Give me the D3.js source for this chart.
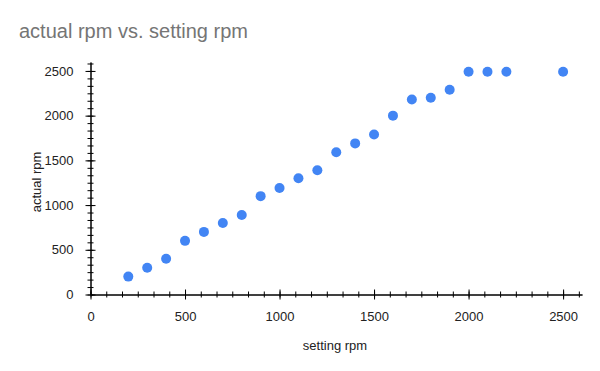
<!DOCTYPE html>
<html>
<head>
<meta charset="utf-8">
<script src="https://cdn.jsdelivr.net/npm/d3@7"></script>
<style>
  body { margin: 0; background: #fff; }
  svg { display: block; font-family: "Liberation Sans", Arial, sans-serif; }
  .axis path { stroke: #000; }
  .axis line { stroke: #000; }
  .axis text { fill: #222; font-size: 13px; }
</style>
</head>
<body>
<div id="chart"></div>
<script>
// setting rpm (x) vs. actual rpm (y)
const settingRpm = [200, 300, 400, 500, 600, 700, 800, 900, 1000, 1100, 1200,
  1300, 1400, 1500, 1600, 1700, 1800, 1900, 2000, 2100, 2200, 2500];
const actualRpm = [200, 300, 400, 600, 700, 800, 890, 1100, 1190, 1300, 1390,
  1590, 1690, 1790, 2000, 2180, 2200, 2290, 2490, 2490, 2490, 2490];
const majorTicks = [0, 500, 1000, 1500, 2000, 2500];
const minorTicks = d3.range(0, 2600, 500 / 6);

const width = 600;
const height = 371;

const svg = d3.select('#chart').append('svg')
  .attr('width', width)
  .attr('height', height);

const x = d3.scaleLinear().domain([0, 2600]).range([90.5, 582]);
const y = d3.scaleLinear().domain([0, 2600]).range([294.5, 62]);

svg.append('text')
  .attr('x', 19)
  .attr('y', 38)
  .attr('fill', '#757575')
  .style('font-size', '20px')
  .text('actual rpm vs. setting rpm');

/** minor ticks first, then the labelled major ticks on top */
const xMinor = svg.append('g').classed('axis', true)
  .attr('transform', `translate(0, ${y(0)})`)
  .call(d3.axisBottom(x).tickValues(minorTicks).tickFormat('').tickSizeOuter(0));
xMinor.selectAll('.tick line').attr('y1', -3).attr('y2', 3);

const yMinor = svg.append('g').classed('axis', true)
  .attr('transform', `translate(${x(0)}, 0)`)
  .call(d3.axisLeft(y).tickValues(minorTicks).tickFormat('').tickSizeOuter(0));
yMinor.selectAll('.tick line').attr('x1', -3).attr('x2', 3);

const xAxis = svg.append('g').classed('axis', true)
  .attr('transform', `translate(0, ${y(0)})`)
  .call(d3.axisBottom(x).tickValues(majorTicks).tickFormat(d3.format('d')).tickSizeOuter(0).tickPadding(11));
xAxis.selectAll('.tick line').attr('y1', -5).attr('y2', 5);

const yAxis = svg.append('g').classed('axis', true)
  .attr('transform', `translate(${x(0)}, 0)`)
  .call(d3.axisLeft(y).tickValues(majorTicks).tickFormat(d3.format('d')).tickSizeOuter(0).tickPadding(11));
yAxis.selectAll('.tick line').attr('x1', -5).attr('x2', 5);

svg.append('text')
  .attr('x', 335)
  .attr('y', 350)
  .attr('text-anchor', 'middle')
  .attr('fill', '#222')
  .style('font-size', '13px')
  .text('setting rpm');

svg.append('text')
  .attr('transform', `translate(41, 182) rotate(-90)`)
  .attr('text-anchor', 'middle')
  .attr('fill', '#222')
  .style('font-size', '13px')
  .text('actual rpm');

svg.append('g')
  .selectAll('circle')
  .data(settingRpm)
  .enter()
  .append('circle')
  .attr('cx', d => x(d))
  .attr('cy', (d, i) => y(actualRpm[i]))
  .attr('r', 5)
  .attr('fill', '#4285f4');
</script>
</body>
</html>
